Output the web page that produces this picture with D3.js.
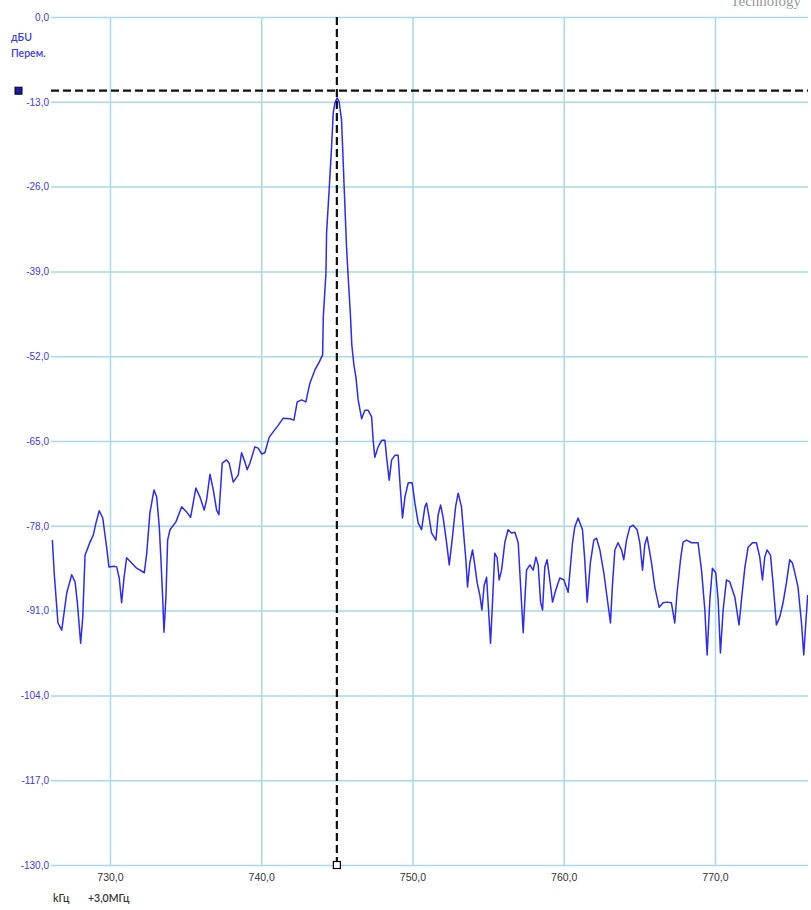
<!DOCTYPE html>
<html>
<head>
<meta charset="utf-8">
<script src="https://cdn.jsdelivr.net/npm/d3@7"></script>
<style>
  html, body { margin: 0; padding: 0; background: #ffffff; }
  svg { display: block; }
</style>
</head>
<body>
<div id="chart"></div>
<script>
// Spectrum trace: frequency offset (kHz) and level (dBU)
const freqKHz = [
  726.19, 726.32, 726.56, 726.81, 727.14, 727.47, 727.69, 727.84, 728.06, 728.20,
  728.35, 728.68, 728.90, 729.07, 729.29, 729.52, 729.78, 729.93, 730.26, 730.44,
  730.61, 730.77, 730.93, 731.10, 731.43, 731.76, 732.27, 732.43, 732.64, 732.91,
  733.09, 733.26, 733.37, 733.48, 733.57, 733.70, 733.81, 733.97, 734.36, 734.74,
  735.07, 735.33, 735.68, 735.95, 736.23, 736.39, 736.61, 736.83, 737.05, 737.20,
  737.42, 737.71, 737.88, 738.15, 738.48, 738.70, 738.92, 739.07, 739.25, 739.58,
  739.80, 740.03, 740.24, 740.53, 740.79, 741.12, 741.45, 741.90, 742.16, 742.38,
  742.67, 742.95, 743.22, 743.55, 743.83, 744.06, 744.10, 744.28, 744.32, 744.49,
  744.65, 744.76, 744.87, 745.02, 745.15, 745.31, 745.38, 745.49, 745.64, 745.75,
  745.89, 745.99, 746.13, 746.26, 746.41, 746.64, 746.85, 747.07, 747.30, 747.40,
  747.51, 747.73, 747.96, 748.18, 748.29, 748.46, 748.62, 748.84, 749.05, 749.17,
  749.34, 749.50, 749.72, 749.98, 750.16, 750.38, 750.60, 750.82, 750.93, 751.10,
  751.26, 751.55, 751.70, 751.86, 752.03, 752.25, 752.43, 752.62, 752.85, 753.02,
  753.24, 753.40, 753.53, 753.64, 753.79, 753.97, 754.12, 754.28, 754.45, 754.59,
  754.74, 754.90, 755.00, 755.16, 755.29, 755.44, 755.60, 755.73, 755.89, 756.11,
  756.32, 756.55, 756.77, 756.99, 757.10, 757.21, 757.32, 757.43, 757.54, 757.76,
  757.98, 758.16, 758.31, 758.47, 758.60, 758.75, 758.90, 759.08, 759.26, 759.48,
  759.74, 760.01, 760.29, 760.58, 760.73, 760.95, 761.24, 761.39, 761.55, 761.76,
  761.99, 762.17, 762.39, 762.65, 762.93, 763.09, 763.22, 763.38, 763.59, 763.82,
  763.97, 764.15, 764.37, 764.59, 764.85, 765.03, 765.21, 765.36, 765.51, 765.80,
  766.02, 766.31, 766.57, 766.83, 767.12, 767.34, 767.49, 767.72, 767.89, 768.12,
  768.45, 768.88, 769.11, 769.33, 769.48, 769.66, 769.83, 770.05, 770.21, 770.36,
  770.54, 770.76, 770.98, 771.31, 771.59, 771.75, 771.97, 772.19, 772.48, 772.74,
  772.96, 773.14, 773.29, 773.44, 773.67, 773.84, 774.06, 774.28, 774.50, 774.72,
  774.94, 775.12, 775.27, 775.49, 775.72, 775.87, 775.98, 776.13
];
const levelDb = [
  -80.2, -85.5, -92.9, -94.0, -88.3, -85.5, -86.6, -89.7, -96.0, -92.0,
  -82.5, -80.5, -79.4, -77.6, -75.7, -76.8, -81.3, -84.3, -84.2, -84.3,
  -86.0, -89.8, -85.9, -82.9, -83.7, -84.5, -85.2, -82.2, -76.0, -72.5,
  -73.6, -78.2, -83.2, -88.9, -94.3, -88.9, -80.2, -78.6, -77.4, -75.1,
  -75.9, -76.7, -72.2, -73.6, -75.6, -74.0, -70.1, -72.5, -75.6, -76.3,
  -68.4, -67.9, -68.4, -71.3, -70.2, -66.8, -68.2, -69.4, -68.4, -65.9,
  -66.1, -67.0, -66.8, -64.4, -63.6, -62.6, -61.5, -61.6, -61.8, -59.0,
  -58.7, -59.0, -56.1, -54.1, -52.9, -51.8, -46.1, -39.2, -33.1, -26.5,
  -19.9, -14.7, -13.2, -12.4, -13.0, -15.8, -19.9, -26.5, -35.3, -39.9,
  -45.4, -50.3, -53.4, -55.2, -58.7, -61.6, -60.3, -60.3, -61.3, -64.9,
  -67.5, -65.9, -64.9, -64.9, -67.5, -71.0, -67.9, -67.2, -67.2, -71.4,
  -76.8, -73.6, -71.4, -71.4, -74.5, -77.6, -78.6, -75.1, -74.5, -76.7,
  -79.1, -80.2, -76.3, -74.8, -76.8, -80.5, -84.0, -80.2, -75.1, -73.0,
  -75.1, -79.7, -83.2, -87.4, -83.7, -81.7, -84.0, -86.8, -88.6, -90.9,
  -87.1, -85.9, -89.8, -96.0, -89.8, -82.2, -82.9, -86.3, -84.8, -80.5,
  -78.6, -79.1, -79.0, -80.6, -85.2, -89.8, -94.4, -89.4, -84.8, -84.0,
  -84.8, -82.8, -84.0, -89.7, -90.9, -84.3, -83.2, -86.3, -89.7, -87.8,
  -86.0, -86.3, -88.2, -80.6, -78.2, -76.8, -78.6, -83.2, -89.7, -83.7,
  -80.2, -79.9, -81.7, -85.2, -90.1, -92.9, -87.1, -81.7, -80.6, -81.7,
  -83.2, -80.2, -78.2, -77.9, -78.6, -80.6, -84.8, -80.9, -79.7, -83.6,
  -87.4, -90.5, -89.8, -89.7, -89.8, -92.9, -88.3, -83.2, -80.5, -80.2,
  -80.6, -80.6, -84.8, -90.9, -97.8, -89.4, -84.5, -85.2, -89.4, -97.5,
  -90.9, -86.3, -86.6, -88.9, -93.2, -89.4, -84.5, -81.3, -80.6, -80.6,
  -82.8, -86.3, -82.8, -81.7, -82.5, -86.8, -93.2, -92.0, -89.8, -86.8,
  -83.2, -83.7, -85.1, -87.4, -92.9, -97.8, -93.7, -88.6
];

// Axis ticks and marker readouts
const yTicks = [0, -13, -26, -39, -52, -65, -78, -91, -104, -117, -130];
const xTicks = [730, 740, 750, 760, 770];
const freqRange = [726.1, 776.15];
const levelRange = [-130, 0];
const markerFreq = 745.0;
const refLevel = -11.3;
const yUnitLines = ["дБU", "Перем."];
const xUnitLabel = "kГц";
const xOffsetLabel = "+3,0МГц";
const cornerText = "Technology";

const W = 811, H = 910;
const plot = { left: 51, right: 808, top: 17, bottom: 865 };

const svg = d3.select("#chart").append("svg")
  .attr("width", W).attr("height", H)
  .style("font-family", "Lato, 'Open Sans', sans-serif");

const x = d3.scaleLinear().domain(freqRange).range([plot.left, plot.right]);
const y = d3.scaleLinear().domain(levelRange).range([plot.bottom, plot.top]);

const fmt = v => d3.format(".1f")(v).replace(".", ",").replace("−", "-");

// Corner caption, partly cut off by the page top
svg.append("text")
  .attr("x", 801).attr("y", 6)
  .attr("text-anchor", "end")
  .attr("font-family", "'Liberation Serif', 'DejaVu Serif', serif")
  .attr("font-size", 15)
  .attr("fill", "#9a9a9a")
  .text(cornerText);

// Grid: horizontal lines with level labels
const gridColor = "#a9d9e6";
const yAxis = d3.axisLeft(y).tickValues(yTicks)
  .tickSize(-(plot.right - plot.left)).tickPadding(3).tickFormat(fmt);
const gy = svg.append("g").attr("transform", `translate(${plot.left},0)`).call(yAxis);
gy.select(".domain").remove();
gy.selectAll(".tick line").attr("stroke", gridColor).attr("stroke-width", 1.5);
gy.selectAll(".tick text")
  .attr("fill", "#3a3af0").attr("font-size", 10).attr("x", -2);

// Grid: vertical lines with frequency labels
const xAxis = d3.axisBottom(x).tickValues(xTicks)
  .tickSize(-(plot.bottom - plot.top)).tickPadding(9).tickFormat(fmt);
const gx = svg.append("g").attr("transform", `translate(0,${plot.bottom})`).call(xAxis);
gx.select(".domain").remove();
gx.selectAll(".tick line").attr("stroke", gridColor).attr("stroke-width", 1.5);
gx.selectAll(".tick text").attr("fill", "#333").attr("font-size", 10.5);

// Unit captions
const yUnit = svg.append("g").attr("fill", "#3a3af0").attr("font-size", 10.5).attr("font-weight", 600);
yUnit.append("text").attr("x", 11).attr("y", 41).text(yUnitLines[0]);
yUnit.append("text").attr("x", 11).attr("y", 57).text(yUnitLines[1]);

svg.append("text").attr("x", 53).attr("y", 902)
  .attr("font-size", 10.5).attr("fill", "#333").attr("font-weight", 600).text(xUnitLabel);
svg.append("text").attr("x", 88).attr("y", 902)
  .attr("font-size", 10.5).attr("fill", "#333").attr("font-weight", 600).text(xOffsetLabel);

// Trace
svg.append("clipPath").attr("id", "plotClip").append("rect")
  .attr("x", plot.left).attr("y", plot.top)
  .attr("width", plot.right - plot.left).attr("height", plot.bottom - plot.top);

const line = d3.line()
  .x((d, i) => x(freqKHz[i]))
  .y(d => y(d));

svg.append("path")
  .datum(levelDb)
  .attr("clip-path", "url(#plotClip)")
  .attr("fill", "none")
  .attr("stroke", "#2b2bf2")
  .attr("stroke-width", 1.5)
  .attr("stroke-linejoin", "round")
  .attr("d", line);

// Reference level marker line
svg.append("line")
  .attr("x1", plot.left).attr("x2", plot.right)
  .attr("y1", y(refLevel)).attr("y2", y(refLevel))
  .attr("stroke", "#111").attr("stroke-width", 2.2)
  .attr("stroke-dasharray", "8,4");
svg.append("rect")
  .attr("x", 15).attr("y", y(refLevel) - 3.5)
  .attr("width", 7).attr("height", 7)
  .attr("fill", "#1a1aa8").attr("stroke", "#000").attr("stroke-width", 1);

// Frequency marker line
svg.append("line")
  .attr("x1", x(markerFreq)).attr("x2", x(markerFreq))
  .attr("y1", plot.top).attr("y2", plot.bottom)
  .attr("stroke", "#111").attr("stroke-width", 2.2)
  .attr("stroke-dasharray", "8,4");
svg.append("rect")
  .attr("x", x(markerFreq) - 3.5).attr("y", plot.bottom - 3.5)
  .attr("width", 7).attr("height", 7)
  .attr("fill", "#fff").attr("stroke", "#000").attr("stroke-width", 1.2);
</script>
</body>
</html>
